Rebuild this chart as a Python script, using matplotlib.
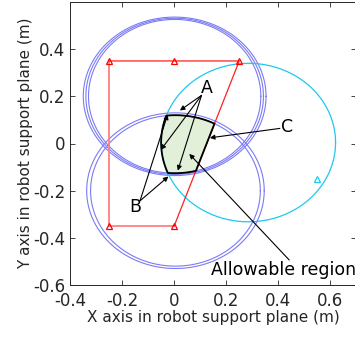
import matplotlib
matplotlib.use("Agg")
import matplotlib.pyplot as plt
import numpy as np

plt.rcParams['font.family'] = ['DejaVu Sans']
plt.rcParams['axes.unicode_minus'] = False

# support polygon (red) and foot points
poly_x = [-0.25, -0.25, 0.25, 0.0, -0.25]
poly_y = [-0.35, 0.35, 0.35, -0.35, -0.35]
feet_x = [-0.25, 0.0, 0.25, -0.25, 0.0]
feet_y = [0.35, 0.35, 0.35, -0.35, -0.35]
swing_x = [0.55]
swing_y = [-0.15]

# leg workspace ellipses: centre x, centre y, rx, ry
upper_cx, upper_cy = 0.002, 0.2
upper_rx = [0.351, 0.341, 0.331]
upper_ry = [0.336, 0.331, 0.326]
lower_cx, lower_cy = 0.005, -0.2
lower_rx = [0.341, 0.326]
lower_ry = [0.330, 0.320]
cyan_cx, cyan_cy, cyan_rx, cyan_ry = 0.285, 0.004, 0.335, 0.336

# annotations (text position, arrow tail, arrow heads)
a_text = (0.126, 0.234)
a_tail = (0.105, 0.204)
a_heads = [(0.022, 0.140), (-0.051, -0.027), (0.014, -0.115)]
b_text = (-0.151, -0.271)
b_tail = (-0.131, -0.243)
b_heads = [(-0.025, 0.123), (-0.022, -0.14)]
c_text = (0.434, 0.069)
c_tail = (0.406, 0.064)
c_heads = [(0.137, 0.024)]
r_text = (0.14, -0.538)
r_tail = (0.442, -0.494)
r_head = (0.058, -0.044)

fig = plt.figure(figsize=(3.55, 3.37), dpi=100)
ax = fig.add_axes([70 / 355, 52 / 337, 286.4 / 355, 283 / 337])

t = np.linspace(0, 2 * np.pi, 400)
for rx, ry in zip(upper_rx, upper_ry):
    ax.plot(upper_cx + rx * np.cos(t), upper_cy + ry * np.sin(t), color='#7b7bf5', lw=0.8)
for rx, ry in zip(lower_rx, lower_ry):
    ax.plot(lower_cx + rx * np.cos(t), lower_cy + ry * np.sin(t), color='#7b7bf5', lw=0.8)
ax.plot(cyan_cx + cyan_rx * np.cos(t), cyan_cy + cyan_ry * np.sin(t), color='#1ec8f0', lw=0.9)

# polygon: top edge and diagonal bright red, left and bottom lighter
ax.plot(poly_x[0:2], poly_y[0:2], color='#ff8080', lw=1.3)
ax.plot(poly_x[3:5], poly_y[3:5], color='#ff8080', lw=1.3)
ax.plot(poly_x[1:4], poly_y[1:4], color='#ff2020', lw=0.9)
ax.plot(feet_x, feet_y, ls='none', marker='^', mfc='none', mec='red', ms=5, mew=0.9)
ax.plot(swing_x, swing_y, ls='none', marker='^', mfc='none', mec='#1ec8f0', ms=5, mew=0.9)

# allowable region = intersection of inner ellipses, cyan ellipse and polygon side
gx, gy = np.meshgrid(np.linspace(-0.2, 0.4, 900), np.linspace(-0.3, 0.3, 900))
def inside(cx, cy, rx, ry):
    return 1 - np.sqrt(((gx - cx) / rx) ** 2 + ((gy - cy) / ry) ** 2)
side = (0.0875 + 0.25 * gy - 0.7 * gx) / np.hypot(0.7, 0.25) / 0.33
f = np.minimum.reduce([inside(upper_cx, upper_cy, upper_rx[-1], upper_ry[-1]),
                       inside(lower_cx, lower_cy, lower_rx[-1], lower_ry[-1]),
                       inside(cyan_cx, cyan_cy, cyan_rx, cyan_ry), side])
ax.contourf(gx, gy, f, levels=[0, 10], colors=['#e2f0d9'])
ax.contour(gx, gy, f, levels=[0], colors='k', linewidths=1.3)

arrow = dict(arrowstyle='-|>', color='k', lw=0.8, mutation_scale=7, shrinkA=0, shrinkB=0)
fs = 12.5
for tail, heads, label, pos in [(a_tail, a_heads, 'A', a_text),
                                (b_tail, b_heads, 'B', b_text),
                                (c_tail, c_heads, 'C', c_text)]:
    for h in heads:
        ax.annotate('', xy=h, xytext=tail, arrowprops=arrow)
    ax.text(pos[0], pos[1], label, fontsize=fs, ha='center', va='center')
ax.annotate('', xy=r_head, xytext=r_tail, arrowprops=arrow)
ax.text(r_text[0], r_text[1], 'Allowable region', fontsize=fs, ha='left', va='center')

ax.set_xlim(-0.4, 0.7)
ax.set_ylim(-0.6, 0.6)
ax.set_xticks([-0.4, -0.2, 0, 0.2, 0.4, 0.6])
ax.set_xticklabels(['-0.4', '-0.2', '0', '0.2', '0.4', '0.6'])
ax.set_yticks([-0.6, -0.4, -0.2, 0, 0.2, 0.4])
ax.set_yticklabels(['-0.6', '-0.4', '-0.2', '0', '0.2', '0.4'])
ax.tick_params(direction='in', top=True, right=True, length=3.5, width=0.6,
               labelsize=12, colors='#262626')
ax.tick_params(axis='x', pad=5)
for s in ax.spines.values():
    s.set_color('#262626')
    s.set_linewidth(0.7)
ax.set_xlabel('X axis in robot support plane (m)', fontsize=11, color='#262626', labelpad=0)
ax.set_ylabel('Y axis in robot support plane (m)', fontsize=11, color='#262626', labelpad=0)

fig.savefig('out.png', dpi=100)
